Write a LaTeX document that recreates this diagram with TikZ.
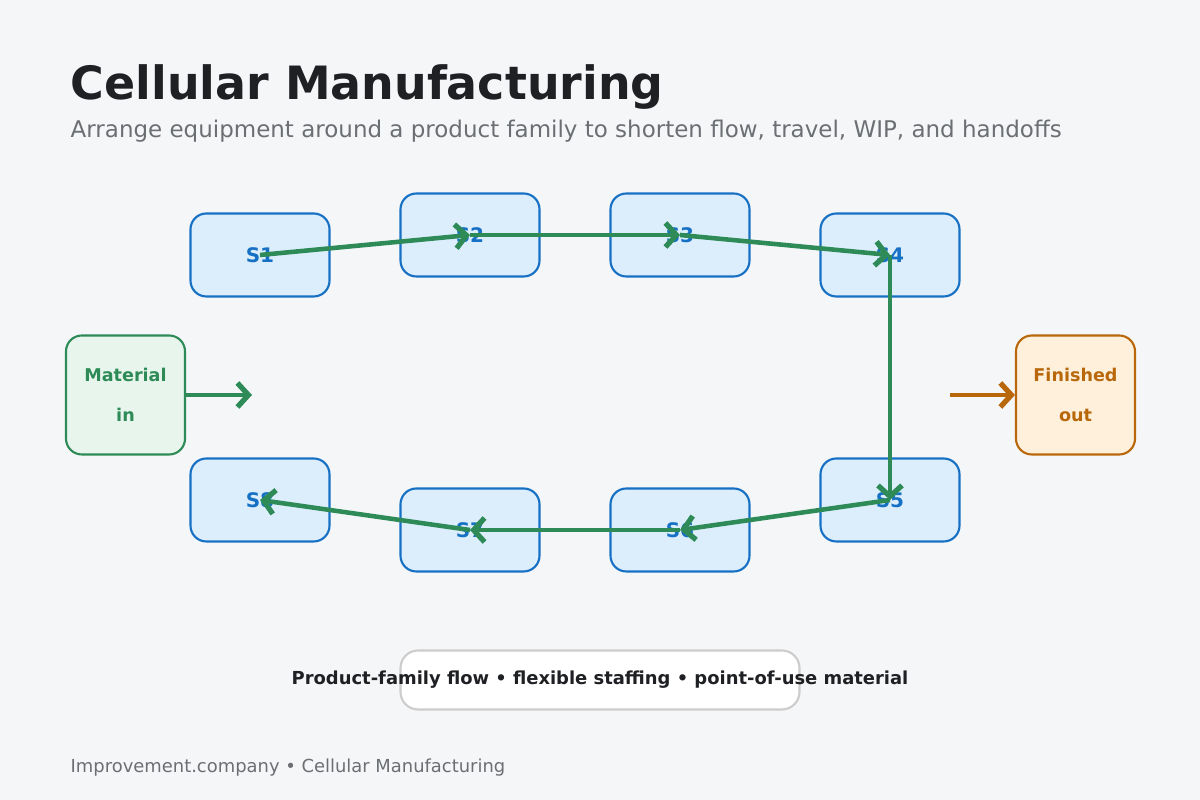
\documentclass[tikz,border=0pt]{standalone}
\usepackage{fontspec}
\setmainfont{DejaVu Sans}
\usetikzlibrary{arrows.meta}
\definecolor{bgc}{HTML}{F5F6F8}
\definecolor{stblue}{HTML}{1670C4}
\definecolor{stfill}{HTML}{DCEEFC}
\definecolor{flowgreen}{HTML}{2E8B57}
\definecolor{infill}{HTML}{E8F5EC}
\definecolor{outorange}{HTML}{B8680A}
\definecolor{outfill}{HTML}{FFF0DC}
\definecolor{greytext}{HTML}{6B6E73}
\definecolor{darktext}{HTML}{1F2023}
\tikzset{
  station/.style={draw=stblue, fill=stfill, line width=0.6pt, rounded corners=4.5pt,
    minimum width=1.39cm, minimum height=0.83cm, text=stblue,
    font=\fontsize{5.7}{6}\selectfont\bfseries},
  flow/.style={draw=flowgreen, line width=1.3pt, -{Straight Barb[length=1.1mm,width=2.4mm,line width=1.5pt]}}
}
\begin{document}
\begin{tikzpicture}
\useasboundingbox[fill=bgc] (0,0) rectangle (12,8);
\node[anchor=base west, text=darktext, font=\fontsize{13.06}{14}\selectfont\bfseries, inner sep=0] (title) at (0.7,7.0) {Cellular Manufacturing};
\node[anchor=base west, text=greytext, font=\fontsize{6.54}{7}\selectfont, inner sep=0] (sub) at (0.7,6.62) {Arrange equipment around a product family to shorten flow, travel, WIP, and handoffs};
% stations
\node[station] (s1) at (2.6,5.45) {S1};
\node[station] (s2) at (4.7,5.65) {S2};
\node[station] (s3) at (6.8,5.65) {S3};
\node[station] (s4) at (8.9,5.45) {S4};
\node[station] (s5) at (8.9,3.0) {S5};
\node[station] (s6) at (6.8,2.7) {S6};
\node[station] (s7) at (4.7,2.7) {S7};
\node[station] (s8) at (2.6,3.0) {S8};
% in and out
\node[draw=flowgreen, fill=infill, text=flowgreen, line width=0.6pt, rounded corners=4.5pt,
  minimum width=1.19cm, minimum height=1.19cm, align=center,
  font=\fontsize{5}{11.5}\selectfont\bfseries] (min) at (1.255,4.05) {Material\\in};
\node[draw=outorange, fill=outfill, text=outorange, line width=0.6pt, rounded corners=4.5pt,
  minimum width=1.19cm, minimum height=1.19cm, align=center,
  font=\fontsize{5}{11.5}\selectfont\bfseries] (fout) at (10.755,4.05) {Finished\\out};
\coordinate (inend) at (2.52,4.05);
\coordinate (outstart) at (9.5,4.05);
\draw[flow] (min.east) -- (inend);
\draw[flow, draw=outorange] (outstart) -- (fout.west);
\draw[flow] (s1.center) -- (s2.center);
\draw[flow] (s2.center) -- (s3.center);
\draw[flow] (s3.center) -- (s4.center);
\draw[flow] (s4.center) -- (s5.center);
\draw[flow] (s5.center) -- (s6.center);
\draw[flow] (s6.center) -- (s7.center);
\draw[flow] (s7.center) -- (s8.center);
% note and footer
\node[draw=black!20, fill=white, line width=0.6pt, rounded corners=5pt, minimum width=3.99cm,
  minimum height=0.59cm] (note) at (6.0,1.2) {};
\node[text=darktext, font=\fontsize{5.1}{6}\selectfont\bfseries] (notetext) at (note.center)
  {Product-family flow • flexible staffing • point-of-use material};
\node[anchor=base west, text=greytext, font=\fontsize{5.1}{6}\selectfont, inner sep=0] (foot) at (0.7,0.27) {Improvement.company • Cellular Manufacturing};
\end{tikzpicture}
\end{document}
